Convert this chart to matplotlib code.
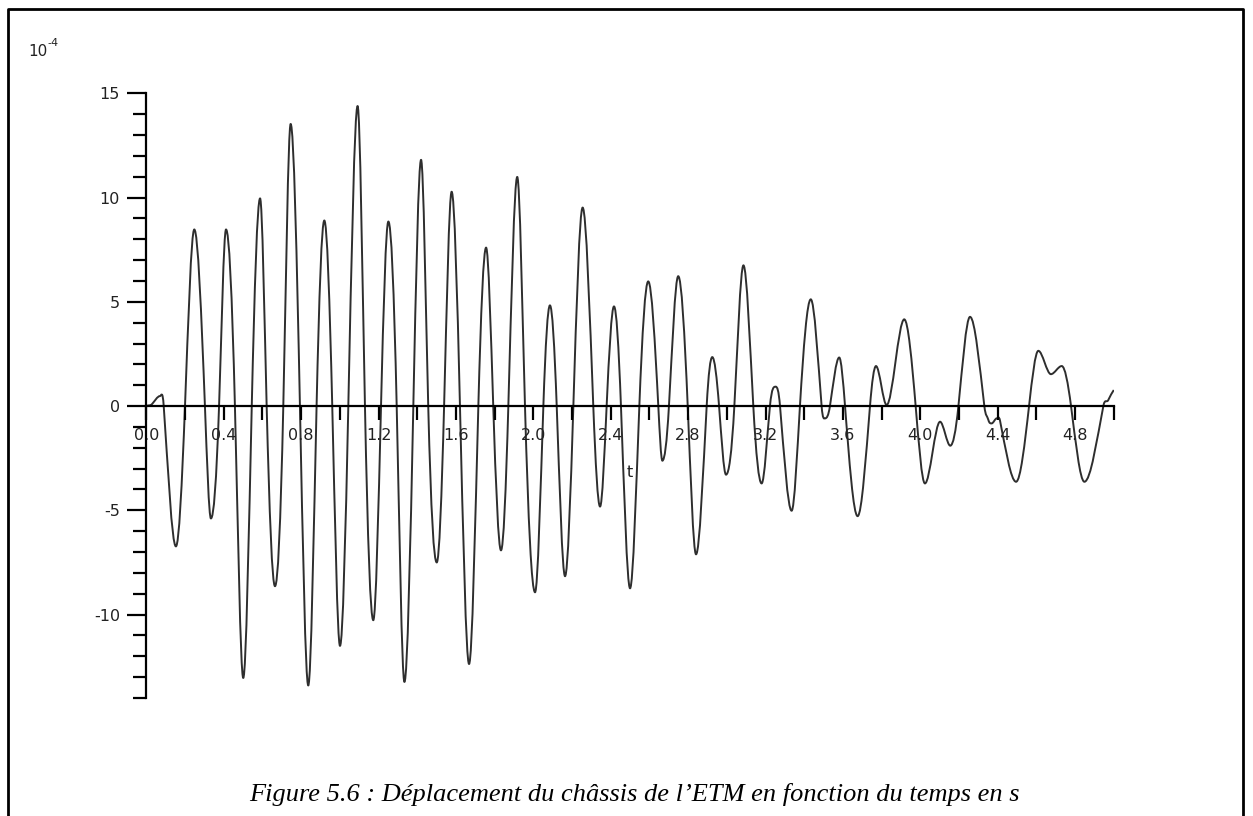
import numpy as np
import matplotlib.pyplot as plt
from matplotlib.ticker import MultipleLocator, FixedLocator
from matplotlib.lines import Line2D
from matplotlib.path import Path
from matplotlib.patches import PathPatch

# temps (s) et déplacement (x 10^-4) : extrema et passages par zéro
t_pts = [0.0, 0.03, 0.071, 0.09, 0.153, 0.2, 0.248, 0.303, 0.334, 0.376,
         0.412, 0.458, 0.501, 0.545, 0.588, 0.622, 0.665, 0.708, 0.746, 0.794,
         0.837, 0.88, 0.92, 0.961, 1.001, 1.044, 1.092, 1.13, 1.173, 1.213,
         1.251, 1.294, 1.334, 1.38, 1.42, 1.457, 1.501, 1.539, 1.578, 1.621,
         1.668, 1.716, 1.756, 1.793, 1.833, 1.871, 1.917, 1.957, 2.009, 2.052,
         2.086, 2.121, 2.164, 2.207, 2.255, 2.31, 2.345, 2.379, 2.417, 2.453,
         2.5, 2.548, 2.594, 2.646, 2.667, 2.701, 2.749, 2.798, 2.841, 2.896,
         2.925, 2.96, 2.996, 3.039, 3.086, 3.137, 3.18, 3.223, 3.253, 3.275,
         3.335, 3.378, 3.434, 3.49, 3.508, 3.533, 3.581, 3.611, 3.676, 3.74,
         3.771, 3.826, 3.917, 3.976, 4.024, 4.102, 4.155, 4.197, 4.257, 4.331,
         4.352, 4.369, 4.395, 4.412, 4.495, 4.562, 4.61, 4.675, 4.731, 4.779,
         4.848, 4.946, 4.972, 5.0]
disp_pts = [0.0, 0.1, 0.48, 0.0, -6.73, 0.0, 8.47, 0.0, -5.39, 0.0,
            8.47, 0.0, -13.04, 0.0, 9.96, 0.0, -8.64, 0.0, 13.53, 0.0,
            -13.4, 0.0, 8.9, 0.0, -11.5, 0.0, 14.39, 0.0, -10.27, 0.0,
            8.85, 0.0, -13.23, 0.0, 11.81, 0.0, -7.5, 0.0, 10.28, 0.0,
            -12.37, 0.0, 7.6, 0.0, -6.92, 0.0, 10.99, 0.0, -8.93, 0.0,
            4.83, 0.0, -8.16, 0.0, 9.52, 0.0, -4.82, 0.0, 4.78, 0.0,
            -8.74, 0.0, 5.98, 0.0, -2.62, 0.0, 6.23, 0.0, -7.11, 0.0,
            2.35, 0.0, -3.29, 0.0, 6.75, 0.0, -3.71, 0.0, 0.93, 0.0,
            -5.02, 0.0, 5.12, 0.0, -0.59, 0.0, 2.33, 0.0, -5.28, 0.0,
            1.92, 0.05, 4.16, 0.0, -3.71, -0.75, -1.9, 0.0, 4.28, 0.0,
            -0.67, -0.83, -0.59, -0.7, -3.63, 0.0, 2.65, 1.53, 1.92, 0.0,
            -3.63, 0.0, 0.3, 0.77]

x_major = np.arange(0, 5.0, 0.4)
x_minor = np.arange(0.2, 5.01, 0.4)
x_labels = ['0.0', '0.4', '0.8', '1.2', '1.6', '2.0', '2.4', '2.8', '3.2',
            '3.6', '4.0', '4.4', '4.8']
y_major = [-10, -5, 0, 5, 10, 15]
y_labels = ['-10', '-5', '0', '5', '10', '15']


def smooth_path(t, y, tension=1.5):
    # trace lissé (segments de Bézier) passant par les points lus
    t = np.asarray(t, float)
    y = np.asarray(y, float)
    n = len(t)
    m = np.zeros(n)
    for i in range(n):
        a = max(i - 1, 0)
        b = min(i + 1, n - 1)
        if 0 < i < n - 1 and (y[i] - y[a]) * (y[b] - y[i]) <= 0:
            m[i] = 0.0
        else:
            m[i] = tension * (y[b] - y[a]) / (t[b] - t[a])
    m[-1] = (y[-1] - y[-2]) / (t[-1] - t[-2])
    verts = [(t[0], y[0])]
    codes = [Path.MOVETO]
    for i in range(n - 1):
        h = t[i + 1] - t[i]
        verts += [(t[i] + h / 3, y[i] + m[i] * h / 3),
                  (t[i + 1] - h / 3, y[i + 1] - m[i + 1] * h / 3),
                  (t[i + 1], y[i + 1])]
        codes += [Path.CURVE4] * 3
    return Path(verts, codes)


W, H = 1253, 816
fig = plt.figure(figsize=(W / 100, H / 100), dpi=100)

# axes placées en pixels : t=0 -> x=146, t=5 -> x=1114 ; 15 -> y=93, -14 -> y=698
x0, x1 = 146.3, 1113.8
y_top, y_bot = 93.3, 698.0
ax = fig.add_axes([x0 / W, (H - y_bot) / H, (x1 - x0) / W, (y_bot - y_top) / H])
ax.set_xlim(0, 5.0)
ax.set_ylim(-14, 15)
ax.patch.set_alpha(0)

ax.add_patch(PathPatch(smooth_path(t_pts, disp_pts), fill=False,
                       edgecolor='#2e2e2e', lw=1.4, joinstyle='round'))

for s in ['top', 'right']:
    ax.spines[s].set_visible(False)
ax.spines['left'].set_position(('data', 0))
ax.spines['bottom'].set_position(('data', 0))
for s in ['left', 'bottom']:
    ax.spines[s].set_linewidth(1.6)
    ax.spines[s].set_color('black')

ax.xaxis.set_major_locator(FixedLocator(x_major))
ax.xaxis.set_minor_locator(FixedLocator(x_minor))
ax.set_xticklabels(x_labels)
ax.yaxis.set_major_locator(FixedLocator(y_major))
ax.yaxis.set_minor_locator(MultipleLocator(1))
ax.set_yticklabels(y_labels)

ax.tick_params(axis='x', which='both', direction='out', length=10, width=1.6, pad=6,
               labelsize=11.5, colors='black')
ax.tick_params(axis='y', which='major', direction='out', length=14, width=1.6, pad=5,
               labelsize=11.5)
ax.tick_params(axis='y', which='minor', direction='out', length=9.5, width=1.6)
for lab in ax.get_xticklabels() + ax.get_yticklabels():
    lab.set_color('#222222')

ax.text(2.5, -3.2, 't', fontsize=11.5, ha='center', va='center', color='#222222')

# facteur d'échelle en haut à gauche
fig.text(28 / W, 1 - 52 / H, '10', fontsize=11, ha='left', va='center', color='#222222')
fig.text(47 / W, 1 - 43 / H, '-4', fontsize=8, ha='left', va='center', color='#222222')

# cadre (gauche, haut, droite)
bx0, bx1, by0 = 8 / W, 1243 / W, 1 - 9 / H
fig.add_artist(Line2D([bx0, bx0, bx1, bx1], [0, by0, by0, 0],
                      transform=fig.transFigure, color='black', lw=2))

fig.text(634 / W, 1 - 795 / H,
         "Figure 5.6 : Déplacement du châssis de l\u2019ETM en fonction du temps en s",
         family='Liberation Serif', style='italic', fontsize=19,
         ha='center', va='center', color='black')

fig.savefig('out.png', dpi=100)
